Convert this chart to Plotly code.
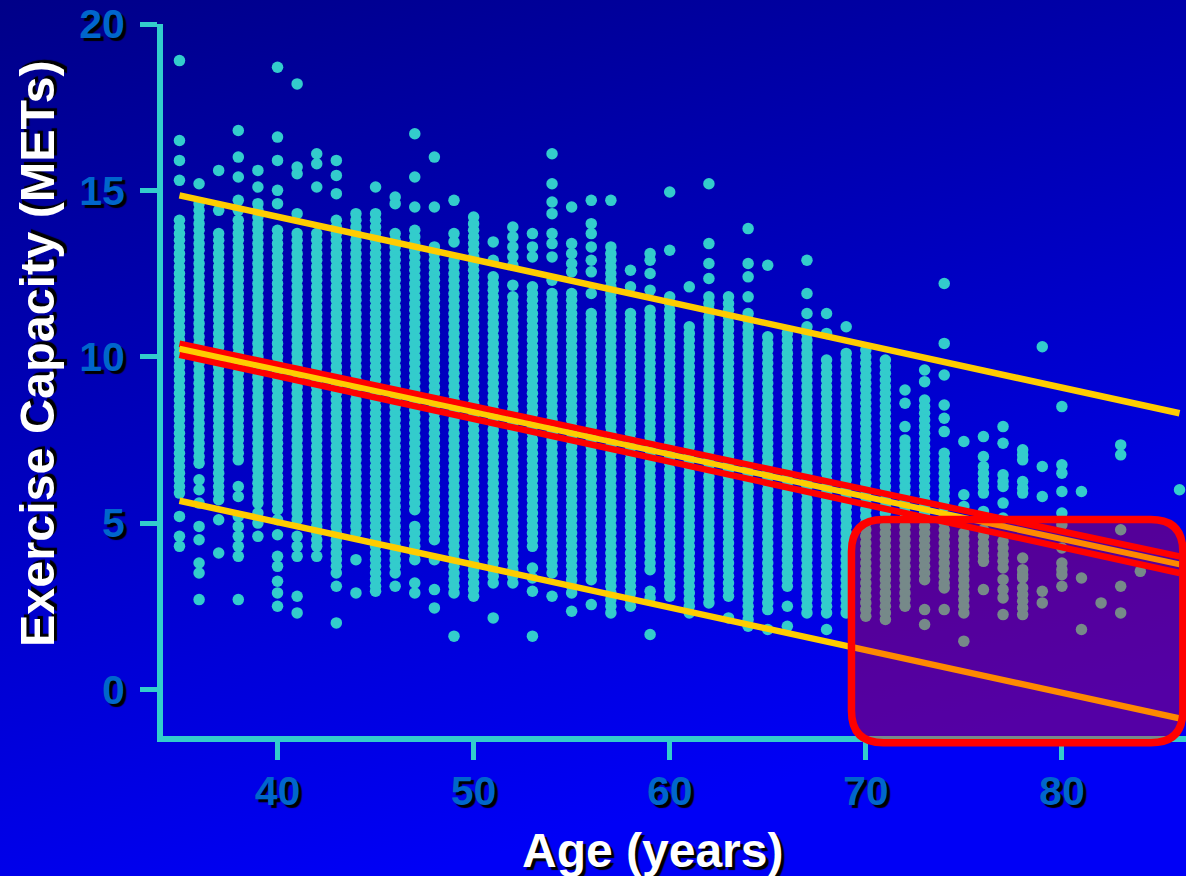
import base64
import plotly.graph_objects as go

# ---------------- data ----------------
ages = [35, 36, 37, 38, 39, 40, 41, 42, 43, 44, 45, 46, 47, 48, 49, 50, 51, 52, 53, 54,
        55, 56, 57, 58, 59, 60, 61, 62, 63, 64, 65, 66, 67, 68, 69, 70, 71, 72, 73, 74,
        75, 76, 77, 78, 79, 80, 81, 82, 83, 84, 86]

mets_by_age = [
    # 35
    [18.9, 16.5, 15.9, 15.3, 14.1, 13.9, 13.7, 13.5, 13.3, 13.1, 12.9, 12.7, 12.5, 12.3, 12.1, 11.9, 11.7, 11.5, 11.3, 11.1, 10.9, 10.7, 10.5, 10.3, 10.1, 9.9, 9.7, 9.5, 9.3, 9.1, 8.9, 8.7, 8.5, 8.3, 8.1, 7.9, 7.7, 7.5, 7.3, 7.1, 6.9, 6.7, 6.5, 6.3, 6.1, 5.9, 5.2, 4.6, 4.3],
    # 36
    [15.2, 14.6, 14.4, 14.2, 14.0, 13.8, 13.6, 13.4, 13.2, 13.0, 12.8, 12.6, 12.4, 12.2, 12.0, 11.8, 11.6, 11.4, 11.2, 11.0, 10.8, 10.6, 10.4, 10.2, 10.0, 9.8, 9.6, 9.4, 9.2, 9.0, 8.8, 8.6, 8.4, 8.2, 8.0, 7.8, 7.6, 7.4, 7.2, 7.0, 6.8, 6.3, 6.0, 5.6, 4.9, 4.5, 3.8, 3.5, 2.7],
    # 37
    [15.6, 14.4, 13.7, 13.5, 13.3, 13.1, 12.9, 12.7, 12.5, 12.3, 12.1, 11.9, 11.7, 11.5, 11.3, 11.1, 10.9, 10.7, 10.5, 10.3, 10.1, 9.9, 9.7, 9.5, 9.3, 9.1, 8.9, 8.7, 8.5, 8.3, 8.1, 7.9, 7.7, 7.5, 7.3, 7.1, 6.9, 6.7, 6.5, 6.3, 6.1, 5.9, 5.7, 5.1, 4.1],
    # 38
    [16.8, 16.0, 15.4, 14.7, 14.4, 14.1, 13.9, 13.7, 13.5, 13.3, 13.1, 12.9, 12.7, 12.5, 12.3, 12.1, 11.9, 11.7, 11.5, 11.3, 11.1, 10.9, 10.7, 10.5, 10.3, 10.1, 9.9, 9.7, 9.5, 9.3, 9.1, 8.9, 8.7, 8.5, 8.3, 8.1, 7.9, 7.7, 7.5, 7.3, 7.1, 6.9, 6.1, 5.8, 5.2, 4.9, 4.6, 4.3, 4.0, 2.7],
    # 39
    [15.6, 15.1, 14.6, 14.4, 14.2, 14.0, 13.8, 13.6, 13.4, 13.2, 13.0, 12.8, 12.6, 12.4, 12.2, 12.0, 11.8, 11.6, 11.4, 11.2, 11.0, 10.8, 10.6, 10.4, 10.2, 10.0, 9.8, 9.6, 9.4, 9.2, 9.0, 8.8, 8.6, 8.4, 8.2, 8.0, 7.8, 7.6, 7.4, 7.2, 7.0, 6.8, 6.6, 6.4, 6.2, 6.0, 5.8, 5.6, 5.3, 5.0, 4.6],
    # 40
    [18.7, 16.6, 15.9, 15.0, 14.6, 13.8, 13.6, 13.4, 13.2, 13.0, 12.8, 12.6, 12.4, 12.2, 12.0, 11.8, 11.6, 11.4, 11.2, 11.0, 10.8, 10.6, 10.4, 10.2, 10.0, 9.8, 9.6, 9.4, 9.2, 9.0, 8.8, 8.6, 8.4, 8.2, 8.0, 7.8, 7.6, 7.4, 7.2, 7.0, 6.8, 6.6, 6.4, 6.2, 6.0, 5.8, 5.6, 5.4, 5.1, 4.65, 4.0, 3.7, 3.25, 2.9, 2.5],
    # 41
    [18.2, 15.7, 15.5, 14.3, 13.7, 13.5, 13.3, 13.1, 12.9, 12.7, 12.5, 12.3, 12.1, 11.9, 11.7, 11.5, 11.3, 11.1, 10.9, 10.7, 10.5, 10.3, 10.1, 9.9, 9.7, 9.5, 9.3, 9.1, 8.9, 8.7, 8.5, 8.3, 8.1, 7.9, 7.7, 7.5, 7.3, 7.1, 6.9, 6.7, 6.5, 6.3, 6.1, 5.9, 5.7, 5.5, 5.3, 5.1, 4.6, 4.3, 4.0, 2.8, 2.3],
    # 42
    [16.1, 15.8, 15.1, 13.7, 13.5, 13.3, 13.1, 12.9, 12.7, 12.5, 12.3, 12.1, 11.9, 11.7, 11.5, 11.3, 11.1, 10.9, 10.7, 10.5, 10.3, 10.1, 9.9, 9.7, 9.5, 9.3, 9.1, 8.9, 8.7, 8.5, 8.3, 8.1, 7.9, 7.7, 7.5, 7.3, 7.1, 6.9, 6.7, 6.5, 6.3, 6.1, 5.9, 5.7, 5.5, 5.3, 5.1, 4.9, 4.7, 4.5, 4.3, 4.0],
    # 43
    [20.2, 15.9, 15.45, 14.9, 14.1, 13.9, 13.7, 13.5, 13.3, 13.1, 12.9, 12.7, 12.5, 12.3, 12.1, 11.9, 11.7, 11.5, 11.3, 11.1, 10.9, 10.7, 10.5, 10.3, 10.1, 9.9, 9.7, 9.5, 9.3, 9.1, 8.9, 8.7, 8.5, 8.3, 8.1, 7.9, 7.7, 7.5, 7.3, 7.1, 6.9, 6.7, 6.5, 6.3, 6.1, 5.9, 5.7, 5.5, 5.3, 5.1, 4.9, 4.7, 4.5, 4.3, 4.1, 3.9, 3.7, 3.5, 3.1, 2.0],
    # 44
    [14.3, 14.1, 13.9, 13.7, 13.5, 13.3, 13.1, 12.9, 12.7, 12.5, 12.3, 12.1, 11.9, 11.7, 11.5, 11.3, 11.1, 10.9, 10.7, 10.5, 10.3, 10.1, 9.9, 9.7, 9.5, 9.3, 9.1, 8.9, 8.7, 8.5, 8.3, 8.1, 7.9, 7.7, 7.5, 7.3, 7.1, 6.9, 6.7, 6.5, 6.3, 6.1, 5.9, 5.7, 5.5, 5.3, 5.1, 4.9, 4.7, 3.9, 2.9],
    # 45
    [15.1, 14.3, 14.1, 13.9, 13.7, 13.5, 13.3, 13.1, 12.9, 12.7, 12.5, 12.3, 12.1, 11.9, 11.7, 11.5, 11.3, 11.1, 10.9, 10.7, 10.5, 10.3, 10.1, 9.9, 9.7, 9.5, 9.3, 9.1, 8.9, 8.7, 8.5, 8.3, 8.1, 7.9, 7.7, 7.5, 7.3, 7.1, 6.9, 6.7, 6.5, 6.3, 6.1, 5.9, 5.7, 5.5, 5.3, 5.1, 4.9, 4.7, 4.5, 4.3, 4.1, 3.9, 3.7, 3.5, 3.3, 3.1, 2.95],
    # 46
    [14.8, 14.6, 13.7, 13.5, 13.3, 13.1, 12.9, 12.7, 12.5, 12.3, 12.1, 11.9, 11.7, 11.5, 11.3, 11.1, 10.9, 10.7, 10.5, 10.3, 10.1, 9.9, 9.7, 9.5, 9.3, 9.1, 8.9, 8.7, 8.5, 8.3, 8.1, 7.9, 7.7, 7.5, 7.3, 7.1, 6.9, 6.7, 6.5, 6.3, 6.1, 5.9, 5.7, 5.5, 5.3, 5.1, 4.9, 4.7, 4.5, 4.3, 4.1, 3.9, 3.7, 3.5, 3.1],
    # 47
    [16.7, 15.4, 14.5, 13.8, 13.6, 13.4, 13.2, 13.0, 12.8, 12.6, 12.4, 12.2, 12.0, 11.8, 11.6, 11.4, 11.2, 11.0, 10.8, 10.6, 10.4, 10.2, 10.0, 9.8, 9.6, 9.4, 9.2, 9.0, 8.8, 8.6, 8.4, 8.2, 8.0, 7.8, 7.6, 7.4, 7.2, 7.0, 6.8, 6.6, 6.4, 6.2, 6.0, 5.8, 5.6, 5.4, 4.9, 4.7, 4.5, 4.3, 4.1, 3.9, 3.2, 2.9],
    # 48
    [16.0, 14.5, 13.3, 13.1, 12.9, 12.7, 12.5, 12.3, 12.1, 11.9, 11.7, 11.5, 11.3, 11.1, 10.9, 10.7, 10.5, 10.3, 10.1, 9.9, 9.7, 9.5, 9.3, 9.1, 8.9, 8.7, 8.5, 8.3, 8.1, 7.9, 7.7, 7.5, 7.3, 7.1, 6.9, 6.7, 6.5, 6.3, 6.1, 5.9, 5.7, 5.5, 5.3, 5.1, 4.9, 4.7, 4.5, 3.9, 3.0, 2.45],
    # 49
    [14.7, 13.7, 13.45, 12.9, 12.7, 12.5, 12.3, 12.1, 11.9, 11.7, 11.5, 11.3, 11.1, 10.9, 10.7, 10.5, 10.3, 10.1, 9.9, 9.7, 9.5, 9.3, 9.1, 8.9, 8.7, 8.5, 8.3, 8.1, 7.9, 7.7, 7.5, 7.3, 7.1, 6.9, 6.7, 6.5, 6.3, 6.1, 5.9, 5.7, 5.5, 5.3, 5.1, 4.9, 4.7, 4.5, 4.3, 4.1, 3.9, 3.7, 3.5, 3.3, 3.1, 2.9, 1.6],
    # 50
    [14.2, 14.0, 13.8, 13.6, 13.4, 13.2, 13.0, 12.8, 12.6, 12.4, 12.2, 12.0, 11.8, 11.6, 11.4, 11.2, 11.0, 10.8, 10.6, 10.4, 10.2, 10.0, 9.8, 9.6, 9.4, 9.2, 9.0, 8.8, 8.6, 8.4, 8.2, 8.0, 7.8, 7.6, 7.4, 7.2, 7.0, 6.8, 6.6, 6.4, 6.2, 6.0, 5.8, 5.6, 5.4, 5.2, 5.0, 4.8, 4.6, 4.4, 4.2, 4.0, 3.8, 3.6, 3.4, 3.2, 3.0, 2.8],
    # 51
    [13.45, 12.9, 12.4, 12.2, 12.0, 11.8, 11.6, 11.4, 11.2, 11.0, 10.8, 10.6, 10.4, 10.2, 10.0, 9.8, 9.6, 9.4, 9.2, 9.0, 8.8, 8.6, 8.4, 8.2, 8.0, 7.8, 7.6, 7.4, 7.2, 7.0, 6.8, 6.6, 6.4, 6.2, 6.0, 5.8, 5.6, 5.4, 5.2, 5.0, 4.8, 4.6, 4.4, 4.2, 4.0, 3.8, 3.6, 3.4, 3.2, 2.15],
    # 52
    [13.9, 13.6, 13.3, 13.0, 12.75, 12.15, 11.8, 11.6, 11.4, 11.2, 11.0, 10.8, 10.6, 10.4, 10.2, 10.0, 9.8, 9.6, 9.4, 9.2, 9.0, 8.8, 8.6, 8.4, 8.2, 8.0, 7.8, 7.6, 7.4, 7.2, 7.0, 6.8, 6.6, 6.4, 6.2, 6.0, 5.8, 5.6, 5.4, 5.2, 5.0, 4.8, 4.6, 4.4, 4.2, 4.0, 3.8, 3.6, 3.4, 3.2],
    # 53
    [13.7, 13.3, 13.0, 12.1, 11.9, 11.7, 11.5, 11.3, 11.1, 10.9, 10.7, 10.5, 10.3, 10.1, 9.9, 9.7, 9.5, 9.3, 9.1, 8.9, 8.7, 8.5, 8.3, 8.1, 7.9, 7.7, 7.5, 7.3, 7.1, 6.9, 6.7, 6.5, 6.3, 6.1, 5.9, 5.7, 5.5, 5.3, 5.1, 4.9, 4.7, 4.5, 4.3, 3.65, 3.35, 2.95, 1.6],
    # 54
    [16.1, 15.2, 14.65, 14.3, 13.7, 13.4, 13.0, 12.3, 11.9, 11.7, 11.5, 11.3, 11.1, 10.9, 10.7, 10.5, 10.3, 10.1, 9.9, 9.7, 9.5, 9.3, 9.1, 8.9, 8.7, 8.5, 8.3, 8.1, 7.9, 7.7, 7.5, 7.3, 7.1, 6.9, 6.7, 6.5, 6.3, 6.1, 5.9, 5.7, 5.5, 5.3, 5.1, 4.9, 4.7, 4.5, 4.3, 4.1, 3.9, 3.7, 3.5, 2.8],
    # 55
    [14.5, 13.4, 13.1, 12.8, 12.55, 11.9, 11.7, 11.5, 11.3, 11.1, 10.9, 10.7, 10.5, 10.3, 10.1, 9.9, 9.7, 9.5, 9.3, 9.1, 8.9, 8.7, 8.5, 8.3, 8.1, 7.9, 7.7, 7.5, 7.3, 7.1, 6.9, 6.7, 6.5, 6.3, 6.1, 5.9, 5.7, 5.5, 5.3, 5.1, 4.9, 4.7, 4.5, 4.3, 4.1, 3.9, 3.7, 3.5, 3.3, 3.1, 2.9, 2.35],
    # 56
    [14.7, 14.0, 13.7, 13.3, 12.9, 12.55, 11.9, 11.3, 11.1, 10.9, 10.7, 10.5, 10.3, 10.1, 9.9, 9.7, 9.5, 9.3, 9.1, 8.9, 8.7, 8.5, 8.3, 8.1, 7.9, 7.7, 7.5, 7.3, 7.1, 6.9, 6.7, 6.5, 6.3, 6.1, 5.9, 5.7, 5.5, 5.3, 5.1, 4.9, 4.7, 4.5, 4.3, 4.1, 3.9, 3.7, 3.5, 3.3, 2.55],
    # 57
    [14.7, 13.3, 13.1, 12.9, 12.7, 12.5, 12.3, 12.1, 11.9, 11.7, 11.5, 11.3, 11.1, 10.9, 10.7, 10.5, 10.3, 10.1, 9.9, 9.7, 9.5, 9.3, 9.1, 8.9, 8.7, 8.5, 8.3, 8.1, 7.9, 7.7, 7.5, 7.3, 7.1, 6.9, 6.7, 6.5, 6.3, 6.1, 5.9, 5.7, 5.5, 5.3, 5.1, 4.9, 4.7, 4.5, 4.3, 4.1, 3.9, 3.7, 3.5, 3.3, 3.1, 2.9, 2.7, 2.5, 2.3],
    # 58
    [12.6, 12.1, 11.3, 11.1, 10.9, 10.7, 10.5, 10.3, 10.1, 9.9, 9.7, 9.5, 9.3, 9.1, 8.9, 8.7, 8.5, 8.3, 8.1, 7.9, 7.7, 7.5, 7.3, 7.1, 6.9, 6.7, 6.5, 6.3, 6.1, 5.9, 5.7, 5.5, 5.3, 5.1, 4.9, 4.7, 4.5, 4.3, 4.1, 3.9, 3.7, 3.5, 3.3, 3.1, 2.9, 2.7, 2.5],
    # 59
    [13.1, 12.9, 12.5, 12.0, 11.4, 11.2, 11.0, 10.8, 10.6, 10.4, 10.2, 10.0, 9.8, 9.6, 9.4, 9.2, 9.0, 8.8, 8.6, 8.4, 8.2, 8.0, 7.8, 7.6, 7.4, 7.2, 7.0, 6.8, 6.6, 6.4, 6.2, 6.0, 5.8, 5.6, 5.4, 5.2, 5.0, 4.8, 4.6, 4.4, 4.2, 4.0, 3.8, 3.6, 2.95, 2.75, 1.65],
    # 60
    [14.95, 13.2, 11.8, 11.6, 11.4, 11.2, 11.0, 10.8, 10.6, 10.4, 10.2, 10.0, 9.8, 9.6, 9.4, 9.2, 9.0, 8.8, 8.6, 8.4, 8.2, 8.0, 7.8, 7.6, 7.4, 7.2, 7.0, 6.8, 6.6, 6.4, 6.2, 6.0, 5.8, 5.6, 5.4, 5.2, 5.0, 4.8, 4.6, 4.4, 4.2, 4.0, 3.8, 3.6, 3.4, 3.2, 3.0, 2.8],
    # 61
    [12.1, 10.9, 10.7, 10.5, 10.3, 10.1, 9.9, 9.7, 9.5, 9.3, 9.1, 8.9, 8.7, 8.5, 8.3, 8.1, 7.9, 7.7, 7.5, 7.3, 7.1, 6.9, 6.7, 6.5, 6.3, 6.1, 5.9, 5.7, 5.5, 5.3, 5.1, 4.9, 4.7, 4.5, 4.3, 4.1, 3.9, 3.7, 3.5, 3.3, 3.1, 2.9, 2.7, 2.5, 2.3],
    # 62
    [15.2, 13.4, 12.8, 12.35, 11.8, 11.6, 11.4, 11.2, 11.0, 10.8, 10.6, 10.4, 10.2, 10.0, 9.8, 9.6, 9.4, 9.2, 9.0, 8.8, 8.6, 8.4, 8.2, 8.0, 7.8, 7.6, 7.4, 7.2, 7.0, 6.8, 6.6, 6.4, 6.2, 6.0, 5.8, 5.6, 5.4, 5.2, 5.0, 4.8, 4.6, 4.4, 4.2, 4.0, 3.8, 3.6, 3.4, 3.2, 3.0, 2.8, 2.6],
    # 63
    [11.8, 11.6, 11.4, 11.2, 11.0, 10.8, 10.6, 10.4, 10.2, 10.0, 9.8, 9.6, 9.4, 9.2, 9.0, 8.8, 8.6, 8.4, 8.2, 8.0, 7.8, 7.6, 7.4, 7.2, 7.0, 6.8, 6.6, 6.4, 6.2, 6.0, 5.8, 5.6, 5.4, 5.2, 5.0, 4.8, 4.6, 4.4, 4.2, 4.0, 3.8, 3.6, 3.4, 3.2, 3.0, 2.8, 2.15],
    # 64
    [13.85, 12.8, 12.4, 11.8, 11.3, 11.1, 10.9, 10.7, 10.5, 10.3, 10.1, 9.9, 9.7, 9.5, 9.3, 9.1, 8.9, 8.7, 8.5, 8.3, 8.1, 7.9, 7.7, 7.5, 7.3, 7.1, 6.9, 6.7, 6.5, 6.3, 6.1, 5.9, 5.7, 5.5, 5.3, 5.1, 4.9, 4.7, 4.5, 4.3, 4.1, 3.9, 3.7, 3.5, 3.3, 3.1, 2.9, 2.7, 2.5, 2.3, 2.1, 1.9],
    # 65
    [12.75, 10.6, 10.4, 10.2, 10.0, 9.8, 9.6, 9.4, 9.2, 9.0, 8.8, 8.6, 8.4, 8.2, 8.0, 7.8, 7.6, 7.4, 7.2, 7.0, 6.8, 6.6, 6.4, 6.2, 6.0, 5.8, 5.6, 5.4, 5.2, 5.0, 4.8, 4.6, 4.4, 4.2, 4.0, 3.8, 3.6, 3.4, 3.2, 3.0, 2.8, 2.6, 2.4, 1.8],
    # 66
    [10.7, 10.5, 10.3, 10.1, 9.9, 9.7, 9.5, 9.3, 9.1, 8.9, 8.7, 8.5, 8.3, 8.1, 7.9, 7.7, 7.5, 7.3, 7.1, 6.9, 6.7, 6.5, 6.3, 6.1, 5.9, 5.7, 5.5, 5.3, 5.1, 4.9, 4.7, 4.5, 4.3, 4.1, 3.9, 3.7, 3.5, 3.3, 3.1, 2.5, 1.9],
    # 67
    [12.9, 11.9, 11.3, 10.9, 10.7, 10.5, 10.3, 10.1, 9.9, 9.7, 9.5, 9.3, 9.1, 8.9, 8.7, 8.5, 8.3, 8.1, 7.9, 7.7, 7.5, 7.3, 7.1, 6.9, 6.7, 6.5, 6.3, 6.1, 5.9, 5.7, 5.5, 5.3, 5.1, 4.9, 4.7, 4.5, 4.3, 4.1, 3.9, 3.7, 3.5, 3.3, 3.1, 2.9, 2.7, 2.5, 2.3],
    # 68
    [11.3, 10.7, 9.9, 9.7, 9.5, 9.3, 9.1, 8.9, 8.7, 8.5, 8.3, 8.1, 7.9, 7.7, 7.5, 7.3, 7.1, 6.9, 6.7, 6.5, 6.3, 6.1, 5.9, 5.7, 5.5, 5.3, 5.1, 4.9, 4.7, 4.5, 4.3, 4.1, 3.9, 3.7, 3.5, 3.3, 3.1, 2.9, 2.7, 2.5, 2.3, 1.8],
    # 69
    [10.9, 10.1, 9.9, 9.7, 9.5, 9.3, 9.1, 8.9, 8.7, 8.5, 8.3, 8.1, 7.9, 7.7, 7.5, 7.3, 7.1, 6.9, 6.7, 6.5, 6.3, 6.1, 5.9, 5.7, 5.5, 5.3, 5.1, 4.9, 4.7, 4.5, 4.3, 4.1, 3.9, 3.7, 3.5, 3.3, 3.1, 2.9, 2.7, 2.5, 2.3],
    # 70
    [10.2, 10.0, 9.8, 9.6, 9.4, 9.2, 9.0, 8.8, 8.6, 8.4, 8.2, 8.0, 7.8, 7.6, 7.4, 7.2, 7.0, 6.8, 6.6, 6.4, 6.2, 6.0, 5.8, 5.6, 5.4, 5.2, 5.0, 4.8, 4.6, 4.4, 4.2, 4.0, 3.8, 3.6, 3.4, 3.2, 3.0, 2.8, 2.6, 2.4, 2.2],
    # 71
    [9.9, 9.7, 9.5, 9.3, 9.1, 8.9, 8.7, 8.5, 8.3, 8.1, 7.9, 7.7, 7.5, 7.3, 7.1, 6.9, 6.7, 6.5, 6.3, 6.1, 5.9, 5.7, 5.5, 5.3, 5.1, 4.9, 4.7, 4.5, 4.3, 4.1, 3.9, 3.7, 3.5, 3.3, 3.1, 2.9, 2.7, 2.5, 2.3, 2.1],
    # 72
    [9.0, 8.6, 7.9, 7.5, 7.3, 7.1, 6.9, 6.7, 6.5, 6.3, 6.1, 5.9, 5.7, 5.5, 5.3, 5.1, 4.9, 4.7, 4.5, 4.3, 4.1, 3.9, 3.7, 3.5, 3.3, 3.1, 2.9, 2.7, 2.5],
    # 73
    [9.6, 9.25, 8.7, 8.5, 8.3, 8.1, 7.9, 7.7, 7.5, 7.3, 7.1, 6.9, 6.7, 6.5, 6.3, 6.1, 5.9, 5.7, 5.5, 5.3, 5.1, 4.9, 4.7, 4.5, 4.3, 4.1, 3.9, 3.7, 3.5, 3.3, 2.4, 1.95],
    # 74
    [12.2, 10.4, 9.45, 8.55, 8.15, 7.75, 7.1, 6.9, 6.7, 6.5, 6.3, 6.1, 5.9, 5.7, 5.5, 5.2, 5.0, 4.8, 4.6, 4.4, 4.2, 4.0, 3.8, 3.6, 3.4, 3.2, 3.05, 2.4],
    # 75
    [7.45, 5.85, 5.5, 4.7, 4.5, 4.3, 4.1, 3.9, 3.7, 3.5, 3.3, 3.1, 2.9, 2.7, 2.5, 2.3, 1.45],
    # 76
    [7.6, 7.0, 6.7, 6.5, 6.3, 6.1, 5.9, 5.35, 4.8, 4.6, 4.4, 4.2, 4.0, 3.85, 3.0],
    # 77
    [7.9, 7.4, 6.45, 6.25, 6.1, 5.6, 5.15, 4.45, 4.25, 4.05, 3.85, 3.65, 3.3, 3.0, 2.75, 2.25],
    # 78
    [7.2, 7.05, 6.9, 6.25, 6.05, 5.9, 3.95, 3.6, 3.45, 3.35, 3.05, 2.85, 2.65, 2.45, 2.25],
    # 79
    [10.3, 6.7, 5.8, 2.95, 2.6],
    # 80
    [8.5, 6.75, 6.5, 5.95, 5.3, 4.95, 4.25, 3.8, 3.6, 3.45, 3.1],
    # 81
    [5.95, 3.35, 1.8],
    # 82
    [2.6],
    # 83
    [7.35, 7.05, 4.8, 3.1, 2.3],
    # 84
    [3.55],
    # 86
    [6.0],
]

# regression line, its confidence band and the prediction band (ends at age 35 and 86)
fit_ages = [35, 86]
fit_center = [10.24, 3.76]
ci_upper = [10.39, 4.00]
ci_lower = [10.06, 3.50]
pi_upper = [14.85, 8.30]
pi_lower = [5.67, -0.87]

x_ticks = [40, 50, 60, 70, 80]
y_ticks = [0, 5, 10, 15, 20]
x_title = "Age (years)"
y_title = "Exercise Capacity (METs)"

# ---------------- layout constants ----------------
W, H = 1186, 876
ML, MR, MT, MB = 163, 0, 24, 140
X_RANGE = [34.16, 86.33]
Y_RANGE = [-1.4, 20.0]
PW, PH = W - ML - MR, H - MT - MB

CYAN = "#33CCCC"
YELLOW = "#FFCC00"
RED = "#FF0000"
TICK_BLUE = "#0066CC"
FONT = "Liberation Sans, Arial, Helvetica, sans-serif"
SHADOW = "3px 3px 1px #000000"

xs, ys = [], []
for a, vals in zip(ages, mets_by_age):
    xs.extend([a] * len(vals))
    ys.extend(vals)

fig = go.Figure()

fig.add_trace(go.Scatter(
    x=xs, y=ys, mode="markers", cliponaxis=False, hoverinfo="skip",
    marker=dict(size=11.5, color=CYAN, line=dict(width=0)),
    showlegend=False))

for yv, col, w in [(ci_upper, RED, 6.5), (ci_lower, RED, 6.5), (fit_center, YELLOW, 6),
                   (pi_upper, YELLOW, 6.5), (pi_lower, YELLOW, 6.5)]:
    fig.add_trace(go.Scatter(x=fit_ages, y=yv, mode="lines", hoverinfo="skip",
                             line=dict(color=col, width=w), showlegend=False))

# background gradient (whole page)
svg = ('<svg xmlns="http://www.w3.org/2000/svg" width="%d" height="%d" viewBox="0 0 %d %d" '
       'preserveAspectRatio="none"><defs><linearGradient id="g" x1="0" y1="0" x2="0.35" y2="1">'
       '<stop offset="0" stop-color="#000088"/><stop offset="1" stop-color="#0000F6"/>'
       '</linearGradient></defs><rect width="%d" height="%d" fill="url(#g)"/></svg>') % (W, H, W, H, W, H)
bg_src = "data:image/svg+xml;base64," + base64.b64encode(svg.encode()).decode()


def px_to_paper_x(px):
    return (px - ML) / PW


def px_to_paper_y(py):
    return (H - MB - py) / PH


def dx(v):
    return (v - X_RANGE[0]) / (X_RANGE[1] - X_RANGE[0])


def dy(v):
    return (v - Y_RANGE[0]) / (Y_RANGE[1] - Y_RANGE[0])


# highlighted region (older ages, low capacity) as a rounded rectangle
rx0, rx1 = dx(69.27), dx(86.17)
ry0, ry1 = dy(-1.6), dy(5.11)
r_x, r_y = 32 / PW, 32 / PH
path = (f"M {rx0 + r_x},{ry0} L {rx1 - r_x},{ry0} Q {rx1},{ry0} {rx1},{ry0 + r_y} "
        f"L {rx1},{ry1 - r_y} Q {rx1},{ry1} {rx1 - r_x},{ry1} "
        f"L {rx0 + r_x},{ry1} Q {rx0},{ry1} {rx0},{ry1 - r_y} "
        f"L {rx0},{ry0 + r_y} Q {rx0},{ry0} {rx0 + r_x},{ry0} Z")

fig.update_layout(
    width=W, height=H,
    margin=dict(l=ML, r=MR, t=MT, b=MB, pad=0),
    paper_bgcolor="#0000C0", plot_bgcolor="rgba(0,0,0,0)",
    template="none",
    showlegend=False,
    images=[dict(source=bg_src, xref="paper", yref="paper",
                 x=px_to_paper_x(0), y=px_to_paper_y(0),
                 sizex=W / PW, sizey=H / PH, xanchor="left", yanchor="top",
                 sizing="stretch", layer="below")],
    shapes=[dict(type="path", xref="paper", yref="paper", path=path,
                 line=dict(color=RED, width=7.5), fillcolor="rgba(255,0,0,0.33)",
                 layer="above")],
    xaxis=dict(range=X_RANGE, showgrid=False, zeroline=False, automargin=False,
               showline=True, linecolor=CYAN, linewidth=6,
               ticks="outside", ticklen=18, tickwidth=4.5, tickcolor=CYAN,
               tickvals=x_ticks, ticktext=[str(v) for v in x_ticks],
               ticklabelstandoff=-4,
               tickfont=dict(family=FONT, size=41, color=TICK_BLUE, weight="bold",
                             shadow=SHADOW)),
    yaxis=dict(range=Y_RANGE, showgrid=False, zeroline=False, automargin=False,
               showline=True, linecolor=CYAN, linewidth=6,
               ticks="outside", ticklen=17, tickwidth=4.5, tickcolor=CYAN,
               tickvals=y_ticks, ticktext=[str(v) for v in y_ticks],
               ticklabelstandoff=7,
               tickfont=dict(family=FONT, size=41, color=TICK_BLUE, weight="bold",
                             shadow=SHADOW)),
    annotations=[
        dict(text=x_title, xref="paper", yref="paper",
             x=px_to_paper_x(652), y=px_to_paper_y(850),
             xanchor="center", yanchor="middle", showarrow=False,
             font=dict(family=FONT, size=48, color="white", weight="bold",
                       shadow=SHADOW)),
        dict(text=y_title, xref="paper", yref="paper", textangle=-90,
             x=px_to_paper_x(37), y=px_to_paper_y(354),
             xanchor="center", yanchor="middle", showarrow=False,
             font=dict(family=FONT, size=48.5, color="white", weight="bold",
                       shadow=SHADOW)),
    ],
)

fig.write_html("out.html")
